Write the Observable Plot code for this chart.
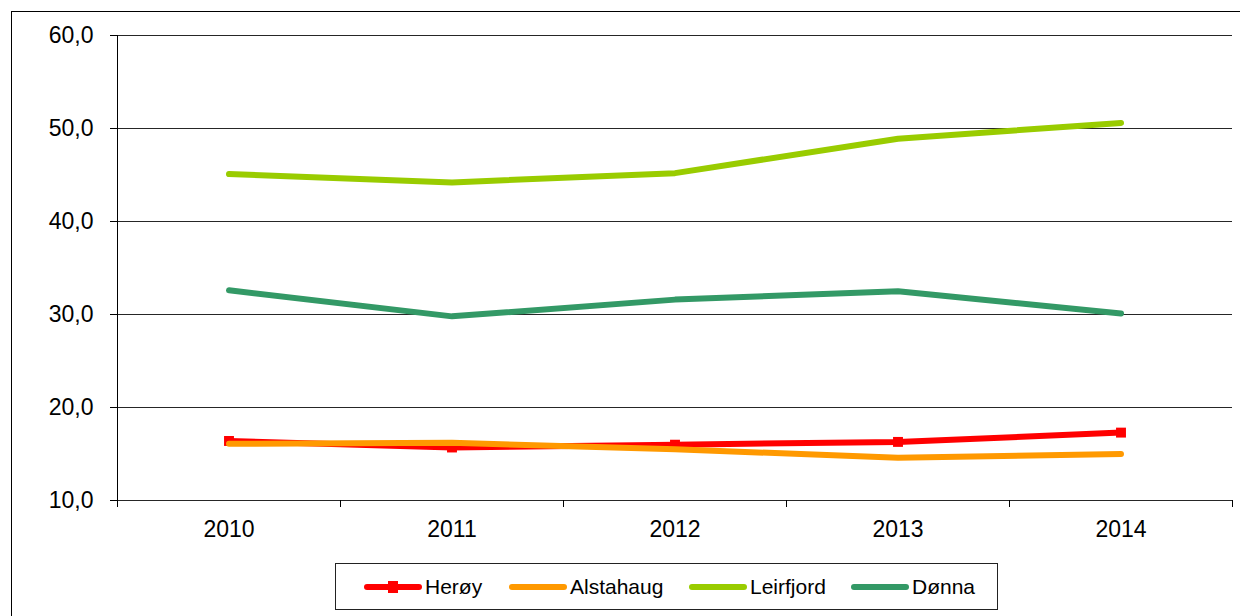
<!DOCTYPE html>
<html><head><meta charset="utf-8">
<script src="https://cdn.jsdelivr.net/npm/d3@7"></script>
<script src="https://cdn.jsdelivr.net/npm/@observablehq/plot@0.6"></script>
<style>
body{margin:0;background:#fff;font-family:"Liberation Sans",Arial,sans-serif;overflow:hidden;}
#frame{position:absolute;left:11px;top:11px;width:1250px;height:620px;border:1px solid #000;box-sizing:border-box;}
#chart{position:absolute;left:0;top:0;}
#legend{position:absolute;left:335px;top:563px;width:663px;height:47px;border:1px solid #222;box-sizing:border-box;background:#fff;font-size:21px;color:#000}
.item{position:absolute;top:0;height:45px;display:flex;align-items:center;}
.item svg{margin-right:2px}
</style></head>
<body>
<div id="frame"></div>
<div id="chart"></div>
<div id="legend"></div>
<script>
const years = [2010, 2011, 2012, 2013, 2014];
const heroy = [16.4, 15.7, 16.0, 16.3, 17.3];
const alstahaug = [16.1, 16.2, 15.5, 14.6, 15.0];
const leirfjord = [45.1, 44.2, 45.2, 48.9, 50.6];
const donna = [32.6, 29.8, 31.6, 32.5, 30.1];
const yTicks = [10, 20, 30, 40, 50, 60];
const seriesNames = ["Herøy", "Alstahaug", "Leirfjord", "Dønna"];
const seriesColors = ["#FF0000", "#FF9900", "#99CC00", "#339966"];
const seriesValues = [heroy, alstahaug, leirfjord, donna];

const bounds = years.map(y => y - 0.5).concat([years[years.length - 1] + 0.5]);
const table = (vals) => years.map((y, i) => ({year: y, value: vals[i]}));

const lineMarks = [];
seriesValues.forEach((vals, k) => {
  lineMarks.push(Plot.line(table(vals), {x: "year", y: "value", stroke: seriesColors[k], strokeWidth: 6, strokeLinecap: "round", strokeLinejoin: "round"}));
  if (k === 0) {
    lineMarks.push(Plot.dot(table(vals), {x: "year", y: "value", symbol: "square", r: 5.6, fill: seriesColors[k], stroke: "none"}));
  }
});

const chart = Plot.plot({
  width: 1240, height: 545,
  marginLeft: 117, marginRight: 8, marginTop: 35, marginBottom: 45,
  x: {type: "linear", domain: [bounds[0], bounds[bounds.length - 1]]},
  y: {domain: [10, 60]},
  style: {fontFamily: '"Liberation Sans", Arial, sans-serif', fontSize: "23px", color: "#000", background: "transparent", overflow: "visible"},
  marks: [
    Plot.gridY(yTicks, {stroke: "#000", strokeOpacity: 0.85}),
    Plot.ruleX([bounds[0]], {stroke: "#000"}),
    Plot.axisY(yTicks, {tickSize: 7, tickPadding: 17, tickFormat: d => d.toFixed(1).replace(".", ","), label: null, fontSize: 23}),
    Plot.axisX(bounds, {tickSize: 7, tickFormat: () => "", label: null}),
    Plot.axisX(years, {tickSize: 0, tickPadding: 20, tickFormat: d => String(d), label: null, fontSize: 23}),
    ...lineMarks
  ]
});
document.getElementById("chart").appendChild(chart);

const legend = document.getElementById("legend");
const itemLefts = [27, 172, 352, 514];
seriesNames.forEach((name, k) => {
  const div = document.createElement("div");
  div.className = "item";
  div.style.left = itemLefts[k] + "px";
  let svg = `<svg width="60" height="16"><line x1="4" y1="8" x2="56" y2="8" stroke="${seriesColors[k]}" stroke-width="6" stroke-linecap="round"/>`;
  if (k === 0) svg += `<rect x="25" y="2" width="10" height="12" fill="${seriesColors[k]}"/>`;
  svg += `</svg>`;
  div.innerHTML = svg + `<span>${name}</span>`;
  legend.appendChild(div);
});
</script>
</body></html>
